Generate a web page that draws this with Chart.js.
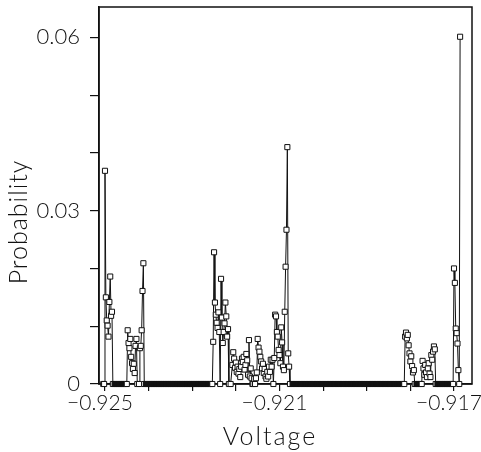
<!DOCTYPE html>
<html>
<head>
<meta charset="utf-8">
<script src="https://cdn.jsdelivr.net/npm/chart.js@4.4.1/dist/chart.umd.min.js"></script>
<style>
	html, body { margin: 0; padding: 0; background: #fff; }
	#probChart { display: block; }
</style>
</head>
<body>
<canvas id="probChart" width="481" height="452"></canvas>
<script>
var voltage = [
	// first group
	-0.92504, -0.92502, -0.925, -0.92498, -0.92496, -0.92494, -0.92492, -0.9249, -0.92488, -0.92486, -0.92484, -0.92482,
	-0.92478, -0.92474, -0.9247, -0.92466, -0.92462, -0.92458, -0.92454, -0.9245,
	-0.92448, -0.92446, -0.92444, -0.92442, -0.9244, -0.92438, -0.92436, -0.92434, -0.92432, -0.9243, -0.92428, -0.92426, -0.92422,
	-0.9242, -0.92418, -0.92416, -0.92414, -0.92412, -0.9241,
	// flat stretch
	-0.92406, -0.92402, -0.92398, -0.92394, -0.9239, -0.92386, -0.92382, -0.92378, -0.92374, -0.9237,
	-0.92366, -0.92362, -0.92358, -0.92354, -0.9235, -0.92346, -0.92342, -0.92338, -0.92334, -0.9233,
	-0.92326, -0.92322, -0.92318, -0.92314, -0.9231, -0.92306, -0.92302, -0.92298, -0.92294, -0.9229,
	-0.92286, -0.92282, -0.92278, -0.92274, -0.9227, -0.92266, -0.92262, -0.92258, -0.92254,
	// middle group
	-0.92252, -0.9225, -0.92248, -0.92246, -0.92244, -0.92242, -0.9224, -0.92238, -0.92236, -0.92234,
	-0.92232, -0.9223, -0.92228, -0.92226, -0.92224, -0.92222, -0.9222, -0.92218, -0.92216, -0.92212,
	-0.92208, -0.92206, -0.92204, -0.92202, -0.922, -0.92198, -0.92196, -0.92194, -0.92192, -0.9219,
	-0.92188, -0.92186, -0.92184, -0.92182, -0.9218, -0.92178, -0.92176, -0.92174, -0.92172, -0.9217,
	-0.92168, -0.92166, -0.92164, -0.92162, -0.9216, -0.92158, -0.92156, -0.92154, -0.92152, -0.9215,
	-0.92148, -0.92146, -0.92144, -0.92142, -0.9214, -0.92138, -0.92136, -0.92134, -0.92132, -0.9213,
	-0.92128, -0.92126, -0.92124, -0.92122, -0.9212, -0.92118, -0.92116, -0.92114, -0.92112, -0.9211,
	-0.92108, -0.92106, -0.92104, -0.92102, -0.921, -0.92098, -0.92096, -0.92094, -0.92092, -0.9209,
	-0.92088, -0.92086, -0.92084, -0.92082, -0.9208, -0.92078, -0.92076,
	// long flat stretch
	-0.9207, -0.92064, -0.92058, -0.92052, -0.92046, -0.9204, -0.92034, -0.92028, -0.92022, -0.92016,
	-0.9201, -0.92004, -0.91998, -0.91992, -0.91986, -0.9198, -0.91974, -0.91968, -0.91962, -0.91956,
	-0.9195, -0.91944, -0.91938, -0.91932, -0.91926, -0.9192, -0.91914, -0.91908, -0.91902, -0.91896,
	-0.9189, -0.91884, -0.91878, -0.91872, -0.91866, -0.9186, -0.91854, -0.91848, -0.91842, -0.91836,
	-0.9183, -0.91824, -0.91818, -0.91814,
	// right groups
	-0.91812, -0.9181, -0.91808, -0.91806, -0.91804, -0.91802, -0.918, -0.91798, -0.91796, -0.91794, -0.91792,
	-0.9179, -0.91786, -0.91782, -0.91778, -0.91774,
	-0.91772, -0.9177, -0.91768, -0.91766, -0.91764, -0.91762, -0.9176, -0.91758, -0.91756, -0.91754,
	-0.91752, -0.9175, -0.91748, -0.91746, -0.91744,
	-0.91742, -0.91738, -0.91734, -0.9173, -0.91726, -0.91722, -0.91718, -0.91714, -0.9171, -0.91706, -0.91702,
	-0.917, -0.91698, -0.91696, -0.91694, -0.91692, -0.9169, -0.91688, -0.91686
];

var probability = [
	// first group
	0, 0, 0.0369, 0.0150, 0.0110, 0.0101, 0.0082, 0.0142, 0.0186, 0.0118, 0.0125, 0,
	0, 0, 0, 0, 0, 0, 0, 0,
	0.0093, 0.0071, 0.0062, 0.0078, 0.0047, 0.0036, 0.0026, 0.0035, 0.0019, 0.0066, 0.0078, 0, 0,
	0.0062, 0.0066, 0.0093, 0.0161, 0.0209, 0,
	// flat stretch
	0, 0, 0, 0, 0, 0, 0, 0, 0, 0,
	0, 0, 0, 0, 0, 0, 0, 0, 0, 0,
	0, 0, 0, 0, 0, 0, 0, 0, 0, 0,
	0, 0, 0, 0, 0, 0, 0, 0, 0,
	// middle group
	0.0073, 0.0228, 0.0141, 0.0120, 0.0106, 0.0097, 0.0124, 0.0090, 0, 0.0182,
	0.0115, 0.0071, 0.0090, 0.0105, 0.0141, 0.0117, 0.0082, 0.0095, 0, 0,
	0.0033, 0.0055, 0.0044, 0.0028, 0.0037, 0.0021, 0.0030, 0.0018, 0.0026, 0.0012,
	0.0030, 0.0044, 0.0038, 0.0047, 0.0025, 0.0033, 0.0052, 0.0041, 0.0016, 0.0076,
	0.0013, 0.0027, 0.0010, 0, 0, 0.0009, 0, 0.0010, 0.0020, 0.0078,
	0.0063, 0.0056, 0.0047, 0.0039, 0.0027, 0.0035, 0.0019, 0.0026, 0.0013, 0.0009,
	0.0021, 0.0013, 0.0030, 0.0021, 0.0042, 0.0030, 0.0042, 0, 0.0045, 0.0120,
	0.0117, 0.0090, 0.0082, 0.0059, 0.0050, 0.0036, 0.0098, 0.0072, 0.0030, 0.0024,
	0.0125, 0.0203, 0.0267, 0.0410, 0.0053, 0.0030, 0,
	// long flat stretch
	0, 0, 0, 0, 0, 0, 0, 0, 0, 0,
	0, 0, 0, 0, 0, 0, 0, 0, 0, 0,
	0, 0, 0, 0, 0, 0, 0, 0, 0, 0,
	0, 0, 0, 0, 0, 0, 0, 0, 0, 0,
	0, 0, 0, 0,
	// right groups
	0.0082, 0.0089, 0.0079, 0.0085, 0.0067, 0.0053, 0.0039, 0.0048, 0.0031, 0.0020, 0.0024,
	0, 0, 0, 0, 0,
	0.0040, 0.0027, 0.0016, 0.0033, 0.0020, 0.0012, 0.0027, 0.0036, 0.0018, 0.0012,
	0.0050, 0.0042, 0.0056, 0.0065, 0.0060,
	0, 0, 0, 0, 0, 0, 0, 0, 0, 0, 0,
	0.0200, 0.0175, 0.0096, 0.0088, 0.0070, 0.0024, 0, 0.0601
];

// axis ticks (every tick gets a mark, only some get a label)
var xTicks = [ -0.925, -0.924, -0.923, -0.922, -0.921, -0.920, -0.919, -0.918, -0.917 ];
var xLabelValues = [ -0.925, -0.921, -0.917 ];
var xLabelTexts = [ "\u22120.925", "\u22120.921", "\u22120.917" ];
var yTicks = [ 0, 0.01, 0.02, 0.03, 0.04, 0.05, 0.06 ];
var yLabelValues = [ 0, 0.03, 0.06 ];
var yLabelTexts = [ "0", "0.03", "0.06" ];

var ink = "#111";
var fontFamily = "Lato, 'DejaVu Sans', sans-serif";

function labelFor( value, values, texts ) {
	for ( var i = 0; i < values.length; i++ ) {
		if ( Math.abs( values[i] - value ) < 1e-9 ) { return texts[i]; }
	}
	return "";
}

// squares inside a flat run at zero overlap into a solid band in the original
function squareFill( context ) {
	var i = context.dataIndex;
	if ( probability[i] === 0 && probability[i - 1] === 0 && probability[i + 1] === 0 ) {
		return ink;
	}
	return "#fff";
}

// draws the box round the plot and the two axis titles
var frameAndTitles = {
	id: "frameAndTitles",
	beforeDatasetsDraw: function( chart ) {
		var a = chart.chartArea;
		var ctx = chart.ctx;
		ctx.save();
		ctx.strokeStyle = ink;
		ctx.lineWidth = 1.5;
		ctx.strokeRect( a.left, a.top, a.right - a.left, a.bottom - a.top );
		ctx.restore();
	},
	afterDraw: function( chart ) {
		var a = chart.chartArea;
		var ctx = chart.ctx;
		ctx.save();
		ctx.fillStyle = ink;
		ctx.font = "300 25px " + fontFamily;
		ctx.textAlign = "center";
		ctx.textBaseline = "alphabetic";
		ctx.letterSpacing = "2px";
		ctx.fillText( "Voltage", a.left + 171, a.bottom + 61 );
		ctx.letterSpacing = "1px";
		ctx.translate( a.left - 72, a.top + 215 );
		ctx.rotate( -Math.PI / 2 );
		ctx.fillText( "Probability", 0, 0 );
		ctx.restore();
	}
};

var points = voltage.map( function( v, i ) {
	return { x: v, y: probability[i] };
} );

var chartConfig = {
	type: "line",
	data: {
		datasets: [{
			data: points,
			borderColor: ink,
			borderWidth: 1,
			tension: 0,
			pointStyle: "rect",
			pointRadius: 3.6,
			pointHoverRadius: 3.6,
			pointBorderWidth: 1,
			pointBorderColor: ink,
			pointBackgroundColor: squareFill,
			clip: false
		}]
	},
	options: {
		responsive: false,
		animation: false,
		devicePixelRatio: 1,
		events: [],
		layout: {
			padding: { left: 0, top: 7, right: 9, bottom: 0 }
		},
		plugins: {
			legend: { display: false },
			tooltip: { enabled: false }
		},
		scales: {
			x: {
				type: "linear",
				min: -0.9251375,
				max: -0.9165874,
				afterBuildTicks: function( scale ) {
					scale.ticks = xTicks.map( function( v ) { return { value: v }; } );
				},
				afterFit: function( scale ) {
					scale.height = 68;
					scale.paddingLeft = 0;
					scale.paddingRight = 0;
				},
				border: { color: ink, width: 1.5 },
				grid: { drawOnChartArea: false, tickLength: 7, color: ink, lineWidth: 1.2 },
				ticks: {
					autoSkip: false,
					maxRotation: 0,
					padding: 0,
					labelOffset: -5,
					color: ink,
					font: { family: fontFamily, size: 21, weight: "300" },
					callback: function( value ) {
						return labelFor( value, xLabelValues, xLabelTexts );
					}
				}
			},
			y: {
				type: "linear",
				min: 0,
				max: 0.06525,
				afterBuildTicks: function( scale ) {
					scale.ticks = yTicks.map( function( v ) { return { value: v }; } );
				},
				afterFit: function( scale ) {
					scale.width = 99;
					scale.paddingTop = 0;
					scale.paddingBottom = 0;
				},
				border: { color: ink, width: 1.5 },
				grid: { drawOnChartArea: false, tickLength: 9, color: ink, lineWidth: 1.2 },
				ticks: {
					autoSkip: false,
					padding: 10,
					color: ink,
					font: { family: fontFamily, size: 22, weight: "300" },
					callback: function( value ) {
						return labelFor( value, yLabelValues, yLabelTexts );
					}
				}
			}
		}
	},
	plugins: [ frameAndTitles ]
};

var probCtx = document.getElementById( "probChart" ).getContext( "2d" );
// the tick numbers in the original are set tighter than the font's default
probCtx.letterSpacing = "-1.5px";
var probChart = new Chart( probCtx, chartConfig );
</script>
</body>
</html>
